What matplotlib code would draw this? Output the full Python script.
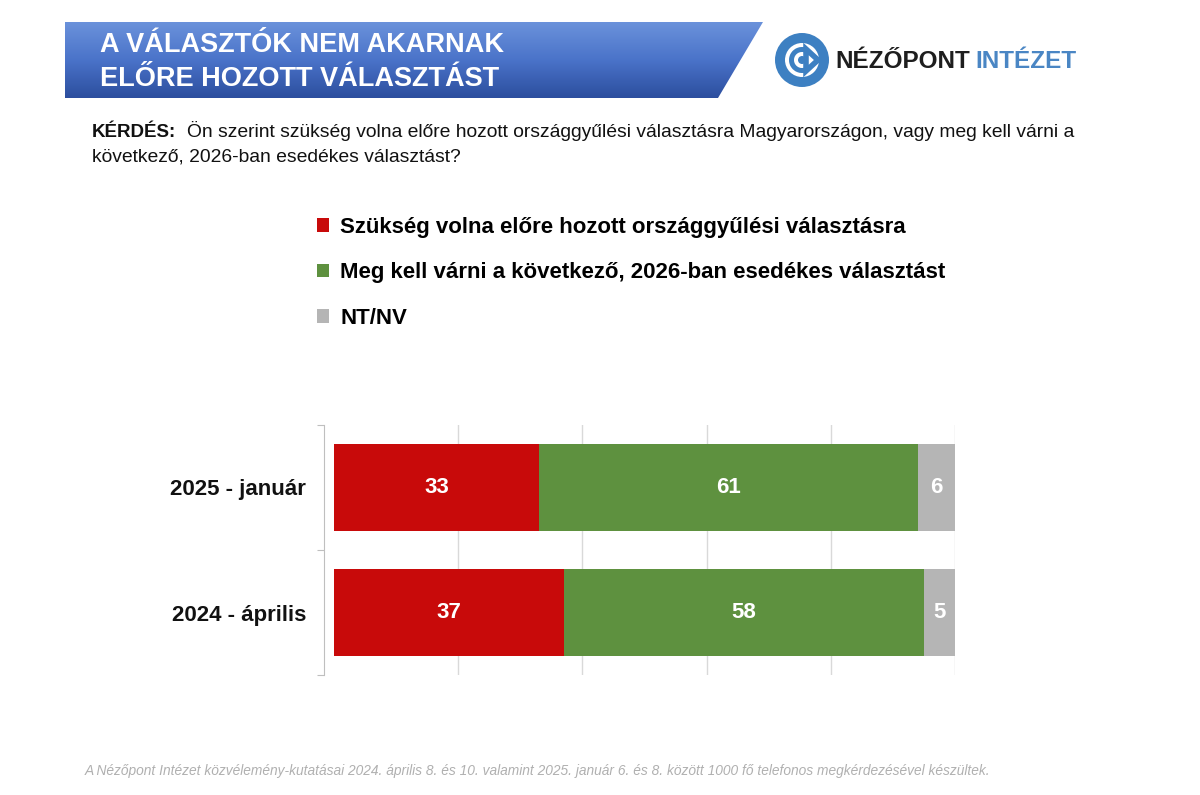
import matplotlib

matplotlib.use("Agg")

import matplotlib.pyplot as plt
import numpy as np
from matplotlib.colors import LinearSegmentedColormap
from matplotlib.patches import Circle, Polygon, Wedge

plt.rcParams["font.family"] = ["Liberation Sans", "DejaVu Sans"]

# data
periods = ["2025 - január", "2024 - április"]
series_labels = [
    "Szükség volna előre hozott országgyűlési választásra",
    "Meg kell várni a következő, 2026-ban esedékes választást",
    "NT/NV",
]
early_vote = [33, 37]
wait_2026 = [61, 58]
no_answer = [6, 5]
series_values = [early_vote, wait_2026, no_answer]
series_colors = ["#c80a0a", "#5e913f", "#b5b5b5"]

W, H = 1200, 795
fig = plt.figure(figsize=(W / 100, H / 100), dpi=100)
fig.patch.set_facecolor("white")


def fx(px):
    return px / W


def fy(py):
    return 1 - py / H


# background layer in pixel coordinates for the banner and logo
bg = fig.add_axes([0, 0, 1, 1])
bg.set_xlim(0, W)
bg.set_ylim(H, 0)
bg.axis("off")

banner = Polygon([[65, 22], [763, 22], [718, 98], [65, 98]], closed=True,
                 facecolor="none", edgecolor="none")
bg.add_patch(banner)
grad = np.linspace(0, 1, 256).reshape(-1, 1)
banner_cmap = LinearSegmentedColormap.from_list("banner", ["#6b92db", "#4a73c9", "#2c4e9e"])
img = bg.imshow(grad, extent=[65, 763, 98, 22], cmap=banner_cmap, aspect="auto", zorder=1)
img.set_clip_path(banner)

bg.text(100, 45, "A VÁLASZTÓK NEM AKARNAK", color="white", fontsize=19.5,
        fontweight="bold", va="center", ha="left", zorder=3)
bg.text(100, 79, "ELŐRE HOZOTT VÁLASZTÁST", color="white", fontsize=19.5,
        fontweight="bold", va="center", ha="left", zorder=3)

# logo mark
logo_blue = "#3d80c2"
bg.add_patch(Circle((802, 60), 27, facecolor=logo_blue, edgecolor="none", zorder=2))
bg.add_patch(Circle((802, 60), 17, facecolor="white", edgecolor="none", zorder=3))
bg.add_patch(Wedge((802, 60), 13, 40, 320, width=5, facecolor=logo_blue, zorder=4))
bg.add_patch(Polygon([[806, 49], [818, 60], [806, 71]], closed=True, facecolor="none",
                     edgecolor=logo_blue, linewidth=4, zorder=4))
bg.add_patch(Circle((802, 60), 4, facecolor=logo_blue, edgecolor="none", zorder=4))
bg.text(835, 61, "NÉZŐPONT", color="#1e1e1e", fontsize=17.5, fontweight="bold",
        va="center", ha="left", zorder=3)
bg.text(975, 61, "INTÉZET", color="#4a86c4", fontsize=17.5, fontweight="bold",
        va="center", ha="left", zorder=3)

# question
bg.text(92, 137, "KÉRDÉS:", fontsize=13.5, fontweight="bold", color="#111111",
        va="baseline", ha="left")
bg.text(187, 137,
        "Ön szerint szükség volna előre hozott országgyűlési választásra Magyarországon, vagy meg kell várni a",
        fontsize=13.9, color="#111111", va="baseline", ha="left")
bg.text(92, 162, "következő, 2026-ban esedékes választást?", fontsize=13.9,
        color="#111111", va="baseline", ha="left")

# footnote
bg.text(85, 771,
        "A Nézőpont Intézet közvélemény-kutatásai 2024. április 8. és 10. valamint 2025. január 6. és 8. között "
        "1000 fő telefonos megkérdezésével készültek.",
        fontsize=9.9, style="italic", color="#b0b0b0", va="center", ha="left")

# bar chart
ax = fig.add_axes([fx(334), fy(675), fx(955) - fx(334), fy(425) - fy(675)])
y = np.arange(len(periods))
left = np.zeros(len(periods))
handles = []
for vals, label, color in zip(series_values, series_labels, series_colors):
    bars = ax.barh(y, vals, left=left, height=0.7, color=color, label=label, zorder=2)
    ax.bar_label(bars, labels=[str(v) for v in vals], label_type="center",
                 color="white", fontsize=16, fontweight="bold")
    handles.append(bars)
    left += np.array(vals)

ax.set_xlim(0, 100)
ax.set_ylim(len(periods) - 0.5, -0.5)
ax.set_xticks([20, 40, 60, 80, 100])
ax.set_xticklabels([])
ax.tick_params(axis="x", length=0)
ax.grid(axis="x", color="#d9d9d9", linewidth=1, zorder=0)
ax.set_axisbelow(True)
for side in ("top", "right", "bottom"):
    ax.spines[side].set_visible(False)
ax.spines["left"].set_position(("outward", 7))
ax.spines["left"].set_color("#bfbfbf")
ax.set_yticks([-0.5, 0.5, 1.5])
ax.set_yticklabels([])
ax.tick_params(axis="y", which="major", length=5, color="#bfbfbf")
ax.set_yticks(y, minor=True)
ax.set_yticklabels(periods, minor=True, fontsize=16, fontweight="bold", color="#111111")
ax.tick_params(axis="y", which="minor", length=0, pad=13)

fig.legend(handles, series_labels, loc="upper left",
           bbox_to_anchor=(fx(308), fy(208)), frameon=False,
           prop={"size": 16, "weight": "bold"}, handlelength=0.55, handleheight=0.55,
           handletextpad=0.5, labelspacing=1.1, borderaxespad=0)

fig.savefig("out.png", dpi=100)
